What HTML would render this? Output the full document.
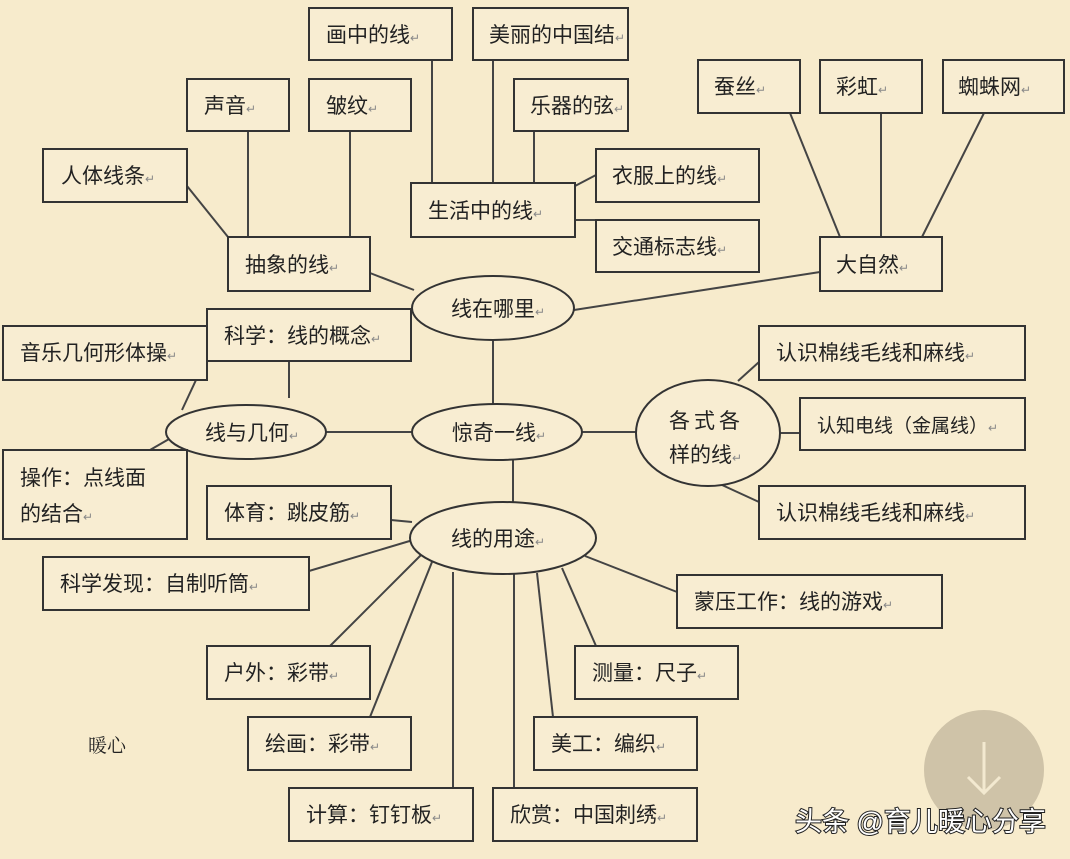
<!DOCTYPE html>
<html><head><meta charset="utf-8"><style>
html,body{margin:0;padding:0;background:#f7ebcc;}
svg{display:block}
text{font-family:"Liberation Sans","Noto Sans CJK SC","WenQuanYi Zen Hei",sans-serif;font-size:21px;fill:#222;}
.r{font-size:12px;fill:#888;}
rect,ellipse{fill:#f8edd2;stroke:#333;stroke-width:2;}
line{stroke:#444;stroke-width:2;}
</style></head><body>
<svg width="1070" height="859" viewBox="0 0 1070 859" xmlns="http://www.w3.org/2000/svg">
<rect x="0" y="0" width="1070" height="859" style="fill:#f7ebcc;stroke:none"/>
<g>
<line x1="432" y1="60" x2="432" y2="183"/>
<line x1="493" y1="60" x2="493" y2="183"/>
<line x1="534" y1="131" x2="534" y2="183"/>
<line x1="575" y1="186" x2="596" y2="175"/>
<line x1="575" y1="220" x2="596" y2="220"/>
<line x1="248" y1="131" x2="248" y2="237"/>
<line x1="350" y1="131" x2="350" y2="237"/>
<line x1="187" y1="186" x2="228" y2="237"/>
<line x1="370" y1="273" x2="414" y2="290"/>
<line x1="790" y1="113" x2="840" y2="237"/>
<line x1="881" y1="113" x2="881" y2="237"/>
<line x1="984" y1="113" x2="922" y2="237"/>
<line x1="820" y1="272" x2="574" y2="310"/>
<line x1="493" y1="340" x2="493" y2="404"/>
<line x1="289" y1="361" x2="289" y2="398"/>
<line x1="196" y1="380" x2="182" y2="410"/>
<line x1="150" y1="450" x2="176" y2="435"/>
<line x1="326" y1="432" x2="412" y2="432"/>
<line x1="582" y1="432" x2="637" y2="432"/>
<line x1="738" y1="381" x2="759" y2="362"/>
<line x1="780" y1="433" x2="800" y2="433"/>
<line x1="722" y1="485" x2="759" y2="502"/>
<line x1="513" y1="460" x2="513" y2="502"/>
<line x1="391" y1="520" x2="412" y2="522"/>
<line x1="309" y1="571" x2="413" y2="540"/>
<line x1="330" y1="646" x2="421" y2="555"/>
<line x1="370" y1="717" x2="432" y2="562"/>
<line x1="453" y1="788" x2="453" y2="572"/>
<line x1="514" y1="788" x2="514" y2="574"/>
<line x1="553" y1="717" x2="537" y2="573"/>
<line x1="596" y1="646" x2="562" y2="568"/>
<line x1="677" y1="592" x2="585" y2="556"/>
</g>
<rect x="309" y="8" width="143" height="52"/><text x="326" y="42">画中的线<tspan class="r">↵</tspan></text>
<rect x="473" y="8" width="155" height="52"/><text x="489" y="42">美丽的中国结<tspan class="r">↵</tspan></text>
<rect x="187" y="79" width="102" height="52"/><text x="204" y="113">声音<tspan class="r">↵</tspan></text>
<rect x="309" y="79" width="102" height="52"/><text x="326" y="113">皱纹<tspan class="r">↵</tspan></text>
<rect x="514" y="79" width="114" height="52"/><text x="530" y="113">乐器的弦<tspan class="r">↵</tspan></text>
<rect x="698" y="60" width="102" height="53"/><text x="714" y="94">蚕丝<tspan class="r">↵</tspan></text>
<rect x="820" y="60" width="102" height="53"/><text x="836" y="94">彩虹<tspan class="r">↵</tspan></text>
<rect x="943" y="60" width="121" height="53"/><text x="958" y="94">蜘蛛网<tspan class="r">↵</tspan></text>
<rect x="43" y="149" width="144" height="53"/><text x="61" y="183">人体线条<tspan class="r">↵</tspan></text>
<rect x="596" y="149" width="163" height="53"/><text x="612" y="183">衣服上的线<tspan class="r">↵</tspan></text>
<rect x="411" y="183" width="164" height="54"/><text x="428" y="218">生活中的线<tspan class="r">↵</tspan></text>
<rect x="596" y="220" width="163" height="52"/><text x="612" y="254">交通标志线<tspan class="r">↵</tspan></text>
<rect x="228" y="237" width="142" height="54"/><text x="245" y="272">抽象的线<tspan class="r">↵</tspan></text>
<rect x="820" y="237" width="122" height="54"/><text x="836" y="272">大自然<tspan class="r">↵</tspan></text>
<ellipse cx="493" cy="308" rx="81" ry="32"/><text x="451" y="316">线在哪里<tspan class="r">↵</tspan></text>
<rect x="207" y="309" width="204" height="52"/><text x="224" y="343">科学：线的概念<tspan class="r">↵</tspan></text>
<rect x="3" y="326" width="204" height="54"/><text x="20" y="360">音乐几何形体操<tspan class="r">↵</tspan></text>
<rect x="759" y="326" width="266" height="54"/><text x="776" y="360">认识棉线毛线和麻线<tspan class="r">↵</tspan></text>
<ellipse cx="246" cy="432" rx="80" ry="27"/><text x="205" y="440">线与几何<tspan class="r">↵</tspan></text>
<ellipse cx="497" cy="432" rx="85" ry="28"/><text x="452" y="440">惊奇一线<tspan class="r">↵</tspan></text>
<ellipse cx="708" cy="433" rx="72" ry="53"/><text x="669" y="428" style="letter-spacing:4px">各式各</text><text x="669" y="462">样的线<tspan class="r">↵</tspan></text>
<rect x="800" y="398" width="225" height="52"/><text x="817" y="432" style="font-size:19px">认知电线（金属线）<tspan class="r">↵</tspan></text>
<rect x="3" y="450" width="184" height="89"/><text x="20" y="485">操作：点线面</text><text x="20" y="521">的结合<tspan class="r">↵</tspan></text>
<rect x="207" y="486" width="184" height="53"/><text x="224" y="520">体育：跳皮筋<tspan class="r">↵</tspan></text>
<ellipse cx="503" cy="538" rx="93" ry="36"/><text x="451" y="546">线的用途<tspan class="r">↵</tspan></text>
<rect x="759" y="486" width="266" height="53"/><text x="776" y="520">认识棉线毛线和麻线<tspan class="r">↵</tspan></text>
<rect x="43" y="557" width="266" height="53"/><text x="60" y="591">科学发现：自制听筒<tspan class="r">↵</tspan></text>
<rect x="677" y="575" width="265" height="53"/><text x="694" y="609">蒙压工作：线的游戏<tspan class="r">↵</tspan></text>
<rect x="207" y="646" width="163" height="53"/><text x="224" y="680">户外：彩带<tspan class="r">↵</tspan></text>
<rect x="575" y="646" width="163" height="53"/><text x="592" y="680">测量：尺子<tspan class="r">↵</tspan></text>
<rect x="248" y="717" width="163" height="53"/><text x="265" y="751">绘画：彩带<tspan class="r">↵</tspan></text>
<rect x="534" y="717" width="163" height="53"/><text x="551" y="751">美工：编织<tspan class="r">↵</tspan></text>
<rect x="289" y="788" width="184" height="53"/><text x="306" y="822">计算：钉钉板<tspan class="r">↵</tspan></text>
<rect x="493" y="788" width="204" height="53"/><text x="510" y="822">欣赏：中国刺绣<tspan class="r">↵</tspan></text>
<text x="88" y="752" style="font-size:19px;font-family:'Noto Serif CJK SC',serif">暖心</text>
<circle cx="984" cy="770" r="60" style="fill:#cfc3a8;stroke:none"/>
<path d="M984 742 V792 M968 777 L984 793 L1000 777" style="fill:none;stroke:#f3e9d0;stroke-width:3"/>
<text x="795" y="831" style="font-size:27px;fill:#fff;stroke:#222;stroke-width:2px;paint-order:stroke">头条 @育儿暖心分享</text>
</svg>
</body></html>
